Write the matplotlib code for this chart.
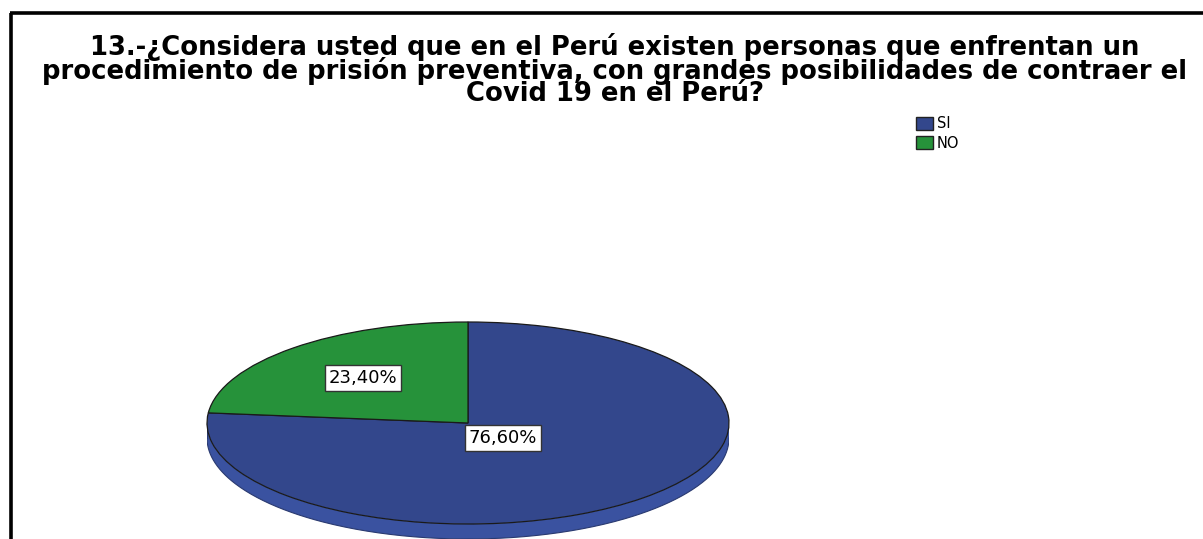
import numpy as np
import matplotlib
matplotlib.use("Agg")
import matplotlib.pyplot as plt
from matplotlib.patches import Rectangle

# data
labels = ["SI", "NO"]
values = [76.60, 23.40]
colors = ["#33478c", "#26923a"]
pct_text = ["76,60%", "23,40%"]

title = ("13.-¿Considera usted que en el Perú existen personas que enfrentan un\n"
         "procedimiento de prisión preventiva, con grandes posibilidades de contraer el\n"
         "Covid 19 en el Perú?")

plt.rcParams["font.family"] = ["DejaVu Sans"]

W, H = 1203, 539
fig = plt.figure(figsize=(W / 100, H / 100), dpi=100)
fig.patch.set_facecolor("white")

# frame lines (top and left) in pixel coords
bg = fig.add_axes([0, 0, 1, 1])
bg.set_xlim(0, W)
bg.set_ylim(H, 0)
bg.axis("off")
bg.plot([10, W], [13, 13], color="black", lw=2.6, solid_capstyle="butt")
bg.plot([11, 11], [13, H], color="black", lw=2.6, solid_capstyle="butt")

fig.text(615 / W, 1 - 70 / H, title, ha="center", va="center",
         fontsize=18.6, fontweight="bold", linespacing=0.8)

# legend
for i, (lab, col) in enumerate(zip(labels, colors)):
    y = 117 + i * 19
    bg.add_patch(Rectangle((916, y), 17, 13, facecolor=col, edgecolor="#222222", lw=1))
    bg.text(937, y + 7, lab, fontsize=10.5, va="center", ha="left")

# pie (elliptical: separate axes, aspect auto)
cx, cy, rx, ry = 468, 423, 261, 101
depth = 15 / ry
ylo, yhi = -1.25, 1.05
ax = fig.add_axes([(cx - rx) / W, ((H - cy) + ylo * ry) / H,
                   2 * rx / W, (yhi - ylo) * ry / H])
ax.set_xlim(-1, 1)
ax.set_ylim(ylo, yhi)
ax.axis("off")

# side of the disc (only the front/lower half shows, all in the SI slice)
t = np.linspace(np.pi, 2 * np.pi, 400)
xs = np.cos(t)
ax.fill_between(xs, np.sin(t) - depth, np.sin(t), color="#3a52a0",
                edgecolor="none", zorder=1)
ax.plot(xs, np.sin(t) - depth, color="#2a3a70", lw=0.8, zorder=1)
ax.plot([-1, -1], [0, -depth], color="#2a3a70", lw=0.8, zorder=1)
ax.plot([1, 1], [0, -depth], color="#2a3a70", lw=0.8, zorder=1)

wedges, _ = ax.pie(values, colors=colors, startangle=90 + values[1] / 100 * 360 - 360,
                   counterclock=True, radius=1,
                   wedgeprops=dict(edgecolor="#1a1a1a", linewidth=0.9))
ax.set_aspect("auto")
ax.set_xlim(-1, 1)
ax.set_ylim(ylo, yhi)
for w in wedges:
    w.set_zorder(2)

# percentage labels
dist = [0.2, 0.6]
for w, txt, d in zip(wedges, pct_text, dist):
    ang = np.deg2rad((w.theta1 + w.theta2) / 2)
    ax.text(d * np.cos(ang), d * np.sin(ang), txt, ha="center", va="center",
            fontsize=13, zorder=5,
            bbox=dict(boxstyle="square,pad=0.2", facecolor="white",
                      edgecolor="#333333", lw=1))

fig.savefig("out.png", dpi=100)
